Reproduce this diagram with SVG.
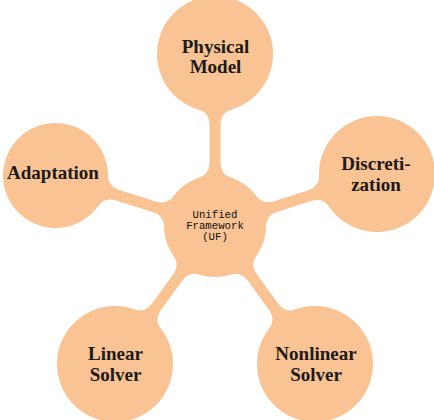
<svg xmlns="http://www.w3.org/2000/svg" width="434" height="420" viewBox="0 0 434 420">
<style>
.bg{fill:#ffffff}
.shape{fill:#F9C393;stroke:none}
.lbl{font-family:"Liberation Serif","Times New Roman",serif;font-weight:bold;font-size:19px;fill:#1c1a1a;text-anchor:middle}
.uf{font-family:"Liberation Mono","Courier New",monospace;font-size:10.7px;fill:#111111;text-anchor:middle}
</style>
<rect class="bg" x="0" y="0" width="434" height="420"/>
<g id="connectors">
<path class="shape" transform="translate(215 226) rotate(-90)" d="M47.53 18.5 Q50.7 5.5 64 5.5 L101 5.5 Q114.26 5.5 117.03 18.5 L117.03 -18.5 Q114.26 -5.5 101 -5.5 L64 -5.5 Q50.7 -5.5 47.53 -18.5 Z"/>
<path class="shape" transform="translate(215 226) rotate(-162.43)" d="M47.53 18.5 Q50.7 5.5 64 5.5 L101.8 5.5 Q115.09 5.5 118.17 18.5 L118.17 -18.5 Q115.09 -5.5 101.8 -5.5 L64 -5.5 Q50.7 -5.5 47.53 -18.5 Z"/>
<path class="shape" transform="translate(215 226) rotate(-17.8)" d="M47.53 18.5 Q50.7 5.5 64 5.5 L99.14 5.5 Q112.4 5.5 115.17 18.5 L115.17 -18.5 Q112.4 -5.5 99.14 -5.5 L64 -5.5 Q50.7 -5.5 47.53 -18.5 Z"/>
<path class="shape" transform="translate(215 226) rotate(125.93)" d="M47.53 18.5 Q50.7 5.5 64 5.5 L99.42 5.5 Q112.68 5.5 115.45 18.5 L115.45 -18.5 Q112.68 -5.5 99.42 -5.5 L64 -5.5 Q50.7 -5.5 47.53 -18.5 Z"/>
<path class="shape" transform="translate(215 226) rotate(54.07)" d="M47.53 18.5 Q50.7 5.5 64 5.5 L99.42 5.5 Q112.68 5.5 115.45 18.5 L115.45 -18.5 Q112.68 -5.5 99.42 -5.5 L64 -5.5 Q50.7 -5.5 47.53 -18.5 Z"/>
</g>
<g id="node-uf">
<circle class="shape" cx="215" cy="226" r="51"/>
<text class="uf" x="215" y="218">Unified</text>
<text class="uf" x="215" y="229">Framework</text>
<text class="uf" x="215" y="239.5">(UF)</text>
</g>
<g id="node-physical">
<circle class="shape" cx="215" cy="54" r="58"/>
<text class="lbl" x="215.5" y="53">Physical</text>
<text class="lbl" x="215.5" y="73">Model</text>
</g>
<g id="node-adaptation">
<circle class="shape" cx="55.5" cy="175.5" r="52.5"/>
<text class="lbl" x="53" y="179">Adaptation</text>
</g>
<g id="node-discretization">
<circle class="shape" cx="377" cy="174" r="58"/>
<text class="lbl" x="376" y="170">Discreti-</text>
<text class="lbl" x="376" y="191">zation</text>
</g>
<g id="node-linear">
<circle class="shape" cx="115" cy="364" r="58"/>
<text class="lbl" x="115.5" y="360">Linear</text>
<text class="lbl" x="115.5" y="381">Solver</text>
</g>
<g id="node-nonlinear">
<circle class="shape" cx="315" cy="364" r="58"/>
<text class="lbl" x="316" y="360">Nonlinear</text>
<text class="lbl" x="316" y="381">Solver</text>
</g>
</svg>
